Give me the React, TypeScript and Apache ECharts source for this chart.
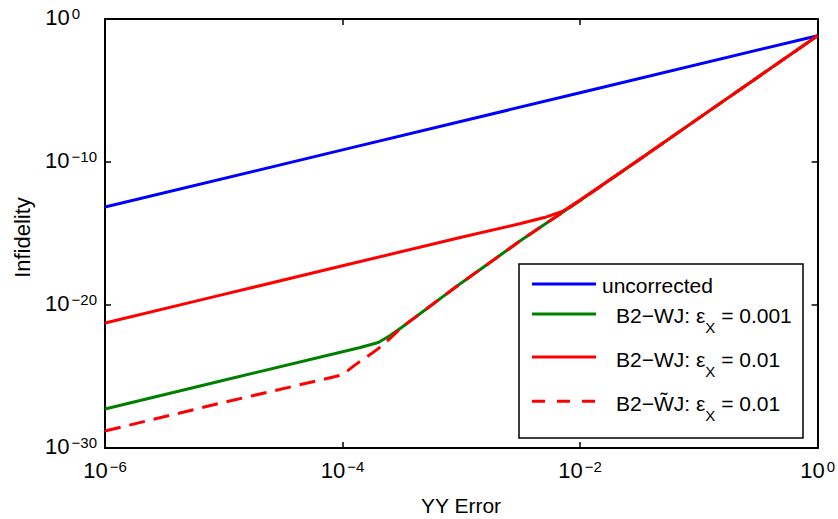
import React, { useEffect, useRef } from "react";
import * as echarts from "echarts";

// [YY Error, Infidelity] pairs
const uncorrected: [number, number][] = [
  [1e-6, 7.1e-14], [1e-4, 7e-10], [1e-2, 7e-6], [1, 0.068],
];
const b2wj001: [number, number][] = [
  [1e-6, 5.4e-28], [1e-5, 5.4e-26], [1e-4, 5.4e-24], [1.41e-4, 1.07e-23],
  [2.0e-4, 2.4e-23], [2.5e-4, 7.1e-23], [3.16e-4, 2.8e-22], [1e-3, 3.5e-19],
  [3.16e-3, 3.2e-16], [1e-2, 2.0e-13], [3.16e-2, 1.5e-10], [0.1, 1.17e-7],
  [0.316, 8.9e-5], [1, 0.068],
];
const b2wj01: [number, number][] = [
  [1e-6, 5.5e-22], [1e-5, 5.5e-20], [1e-4, 5.5e-18], [1e-3, 5.5e-16],
  [3.16e-3, 5.0e-15], [5.0e-3, 1.3e-14], [7.1e-3, 3.5e-14], [1e-2, 2.2e-13],
  [3.16e-2, 1.5e-10], [0.1, 1.17e-7], [0.316, 8.9e-5], [1, 0.068],
];
const b2wtj01: [number, number][] = [
  [1e-6, 1.55e-29], [1e-5, 1.55e-27], [1e-4, 1.3e-25], [1.26e-4, 6e-25],
  [1.58e-4, 2.2e-24], [2.0e-4, 8.9e-24], [2.5e-4, 4.5e-23], [3.16e-4, 2.8e-22],
  [1e-3, 3.5e-19], [3.16e-3, 3.2e-16], [1e-2, 2.0e-13], [3.16e-2, 1.5e-10],
  [0.1, 1.17e-7], [0.316, 8.9e-5], [1, 0.068],
];

// axis ranges and tick steps, in powers of ten
const xExpRange = [-6, 0];
const xExpStep = 2;
const yExpRange = [-30, 0];
const yExpStep = 10;

const seriesNames = [
  "uncorrected",
  "B2\u2212WJ: \u03b5X = 0.001",
  "B2\u2212WJ: \u03b5X = 0.01",
  "B2\u2212W\u0303J: \u03b5X = 0.01",
];
const legendPrefix = ["uncorrected", "B2\u2212WJ: \u03b5", "B2\u2212WJ: \u03b5", "B2\u2212W\u0303J: \u03b5"];
const legendSuffix = ["", " = 0.001", " = 0.01", " = 0.01"];
const colors = ["#0000ff", "#008000", "#ff0000", "#ff0000"];

const FONT = "'Liberation Sans', Arial, Helvetica, sans-serif";

export default function App() {
  const ref = useRef<HTMLDivElement>(null);
  useEffect(() => {
    const chart = echarts.init(ref.current!, null, { renderer: "svg" });
    const expText = (v: number) => {
      const e = Math.round(v);
      return { e, s: `${e < 0 ? "\u2212" : ""}${Math.abs(e)}` };
    };
    const fmtX = (v: number) => `{b|10}{s|${expText(v).s}}`;
    const fmtY = (v: number) => {
      const { e, s } = expText(v);
      return `{b|10}{${e === 0 ? "z" : "s"}|${s}}`;
    };
    const base = { fontSize: 22, lineHeight: 22, fontFamily: FONT, color: "#000", verticalAlign: "bottom" };
    const sup = { fontSize: 15, lineHeight: 15, fontFamily: FONT, color: "#000", verticalAlign: "top", padding: [0, 0, 16, 2] };
    const richX = { b: base, s: sup };
    const richY = { b: base, s: sup, z: { ...sup, padding: [0, 17, 16, 2] } };
    const axisLine = { show: true, onZero: false, lineStyle: { color: "#000", width: 2 } };
    const tick = { show: true, inside: true, length: 6, lineStyle: { color: "#000", width: 1.5 } };
    const common = { type: "value" as const, splitLine: { show: false }, minorTick: { show: false } };

    const legendY = [284, 314, 357, 401.3];
    const textCenters = [285.5, 315, 359, 403];
    const legendChildren: any[] = [
      {
        type: "rect",
        shape: { x: 519, y: 264, width: 284, height: 174 },
        style: { fill: "#fff", stroke: "#000", lineWidth: 1.5 },
      },
    ];
    seriesNames.forEach((_, i) => {
      legendChildren.push({
        type: "line",
        shape: { x1: 532, y1: legendY[i], x2: 596, y2: legendY[i] },
        style: { stroke: colors[i], lineWidth: 3, lineDash: i === 3 ? [13, 12] : null },
      });
      if (i === 0) {
        legendChildren.push({
          type: "text",
          x: 602,
          y: textCenters[i],
          style: {
            text: legendPrefix[i],
            fontSize: 21,
            fontFamily: FONT,
            fill: "#000",
            align: "left",
            verticalAlign: "middle",
            textAlign: "left",
            textVerticalAlign: "middle",
          },
        });
      } else {
        legendChildren.push({
          type: "text",
          x: 616,
          y: textCenters[i] - 10.5,
          style: {
            text: `{t|${legendPrefix[i]}}{u|X}{t|${legendSuffix[i]}}`,
            fontSize: 21,
            fontFamily: FONT,
            fill: "#000",
            align: "left",
            verticalAlign: "top",
            textAlign: "left",
            textVerticalAlign: "top",
            rich: {
              t: { fontSize: 21, lineHeight: 21, fontFamily: FONT, fill: "#000", verticalAlign: "top" },
              u: { fontSize: 15, lineHeight: 15, fontFamily: FONT, fill: "#000", verticalAlign: "top", padding: [15, 0, 0, 0] },
            },
          },
        });
      }
    });

    const seriesData = [uncorrected, b2wj001, b2wj01, b2wtj01].map((d) =>
      d.map(([x, y]) => [Math.log10(x), Math.log10(y)])
    );

    const xBase = { ...common, min: xExpRange[0], max: xExpRange[1], interval: xExpStep, axisLine, axisTick: tick };
    const yBase = { ...common, min: yExpRange[0], max: yExpRange[1], interval: yExpStep, axisLine, axisTick: tick };

    chart.setOption({
      animation: false,
      backgroundColor: "#fff",
      grid: { left: 105, top: 19, right: 20, bottom: 71 },
      xAxis: [
        {
          ...xBase,
          position: "bottom",
          axisLabel: { formatter: fmtX, rich: richX, margin: 11, color: "#000", fontFamily: FONT },
        },
        { ...xBase, position: "top", axisLabel: { show: false } },
      ],
      yAxis: [
        {
          ...yBase,
          position: "left",
          axisLabel: { formatter: fmtY, rich: richY, margin: 8, color: "#000", fontFamily: FONT, padding: [0, 0, 4, 0] },
        },
        { ...yBase, position: "right", axisLabel: { show: false } },
      ],
      series: seriesData.map((d, i) => ({
        name: seriesNames[i],
        type: "line",
        xAxisIndex: 0,
        yAxisIndex: 0,
        data: d,
        showSymbol: false,
        symbol: "none",
        smooth: false,
        lineStyle: { color: colors[i], width: 3, type: i === 3 ? [16, 9] : "solid" },
        itemStyle: { color: colors[i] },
        z: 2 + i,
      })),
      graphic: [
        {
          type: "text",
          x: 461,
          y: 505,
          style: {
            text: "YY Error",
            fontSize: 21,
            fontFamily: FONT,
            fill: "#000",
            align: "center",
            verticalAlign: "middle",
            textAlign: "center",
            textVerticalAlign: "middle",
          },
        },
        {
          type: "text",
          x: 22.5,
          y: 237.5,
          rotation: Math.PI / 2,
          style: {
            text: "Infidelity",
            fontSize: 22,
            fontFamily: FONT,
            fill: "#000",
            align: "center",
            verticalAlign: "middle",
            textAlign: "center",
            textVerticalAlign: "middle",
          },
        },
        { type: "group", z: 100, children: legendChildren },
      ],
    });
    return () => chart.dispose();
  }, []);
  return <div ref={ref} style={{ width: 838, height: 519, position: "absolute", left: 0, top: 0 }} />;
}
